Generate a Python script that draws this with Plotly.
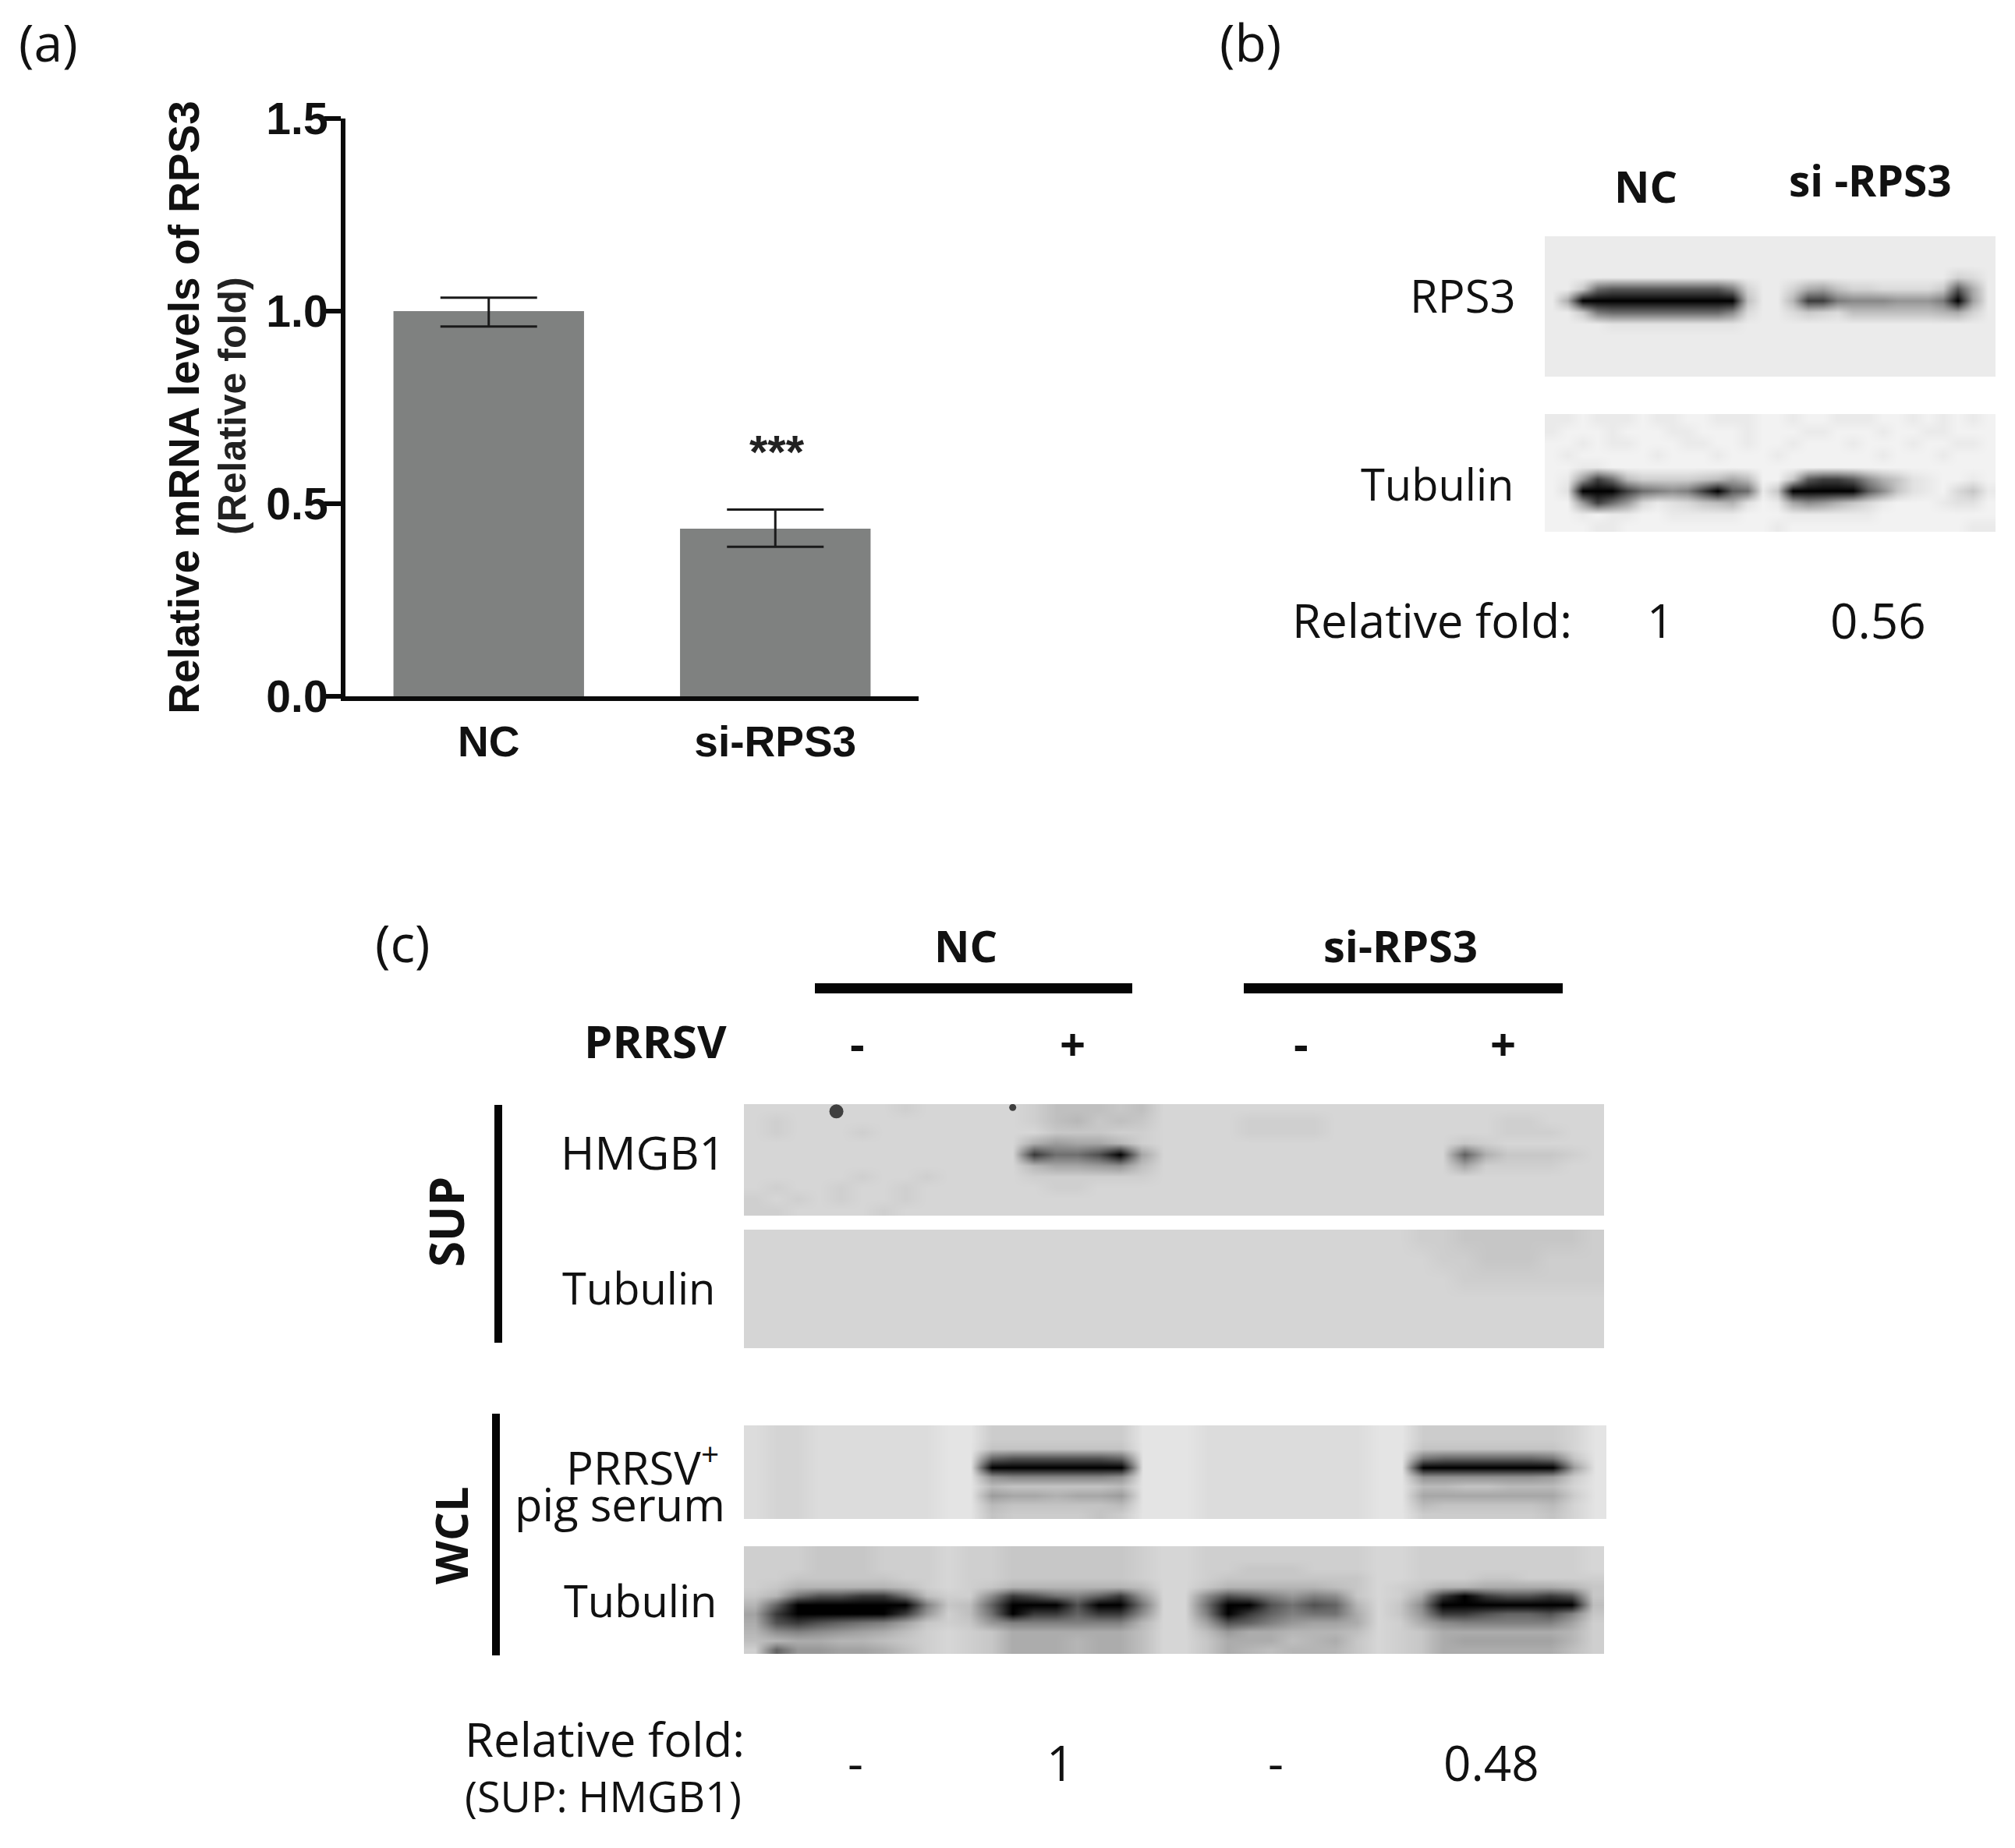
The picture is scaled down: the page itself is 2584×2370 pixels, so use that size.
import plotly.graph_objects as go

W, H = 2584, 2370
BODY = 8  # the page's own margin around the figure

# ---------- panel (a) data ----------
categories = ["NC", "si-RPS3"]
mrna_levels = [1.0, 0.435]
err_plus = [0.035, 0.05]
err_minus = [0.04, 0.047]
y_ticks = [0, 0.5, 1.0, 1.5]
y_tick_labels = ["0.0", "0.5", "1.0", "1.5"]

# ---------- blot densities: one hex digit per cell, f = membrane, 0 = black ----------
b_rps3 = [
    "ffffffffff ffffffffff ffffffffff",
    "ffffffffff ffffffffff ffffffffff",
    "ffffffffff ffffffffff ffffffffff",
    "ffffffffff ffffffffff fffffffcdf",
    "ffb3222222 224cffc87a ccddddb28f",
    "f800000000 000aff9114 55566640 7f",
    "ffb4333333 335dffdbcd aaaaaa98cf",
    "ffffeeeeee eeefffffff ffffffffff",
    "ffffffffff ffffffffff ffffffffff",
    "ffffffffff ffffffffff ffffffffff",
    "ffffffffff ffffffffff ffffffffff",
    "ffffffffff ffffffffff ffffffffff",
]
b_tubulin = [
    "eefeeefeef feeeffeffe eeffefefef",
    "efffefffee fffefffeef ffeffeefff",
    "ffefeefffe effeffefff efffeffeef",
    "fefffffeff fefffeffff ffefffefff",
    "ffeeffffff ffffffffff ffffffffff",
    "fe6139bbbb a979ffa211 258adeffef",
    "fd00013454 1023ea0000 025adefca e",
    "ff6136cedc a98dfe7568 acefffeddf",
    "ffefeeffee eeefffeeee eeffffffff",
    "fffeefffff fffffeffff ffffffffee",
]
c_hmgb1 = [
    "fffffffeff fffecccdcf ffffffffff ffffffffff",
    "feffffffff fffecbdcdf fffeeeefff fffffeefff",
    "fefffeffff ffffdddeef fffeeeefff fffffeeeff",
    "ffffffffff fffa899bef ffffffffff fffdefffff",
    "ffffffffff fff144209f ffffffffff fff3adddef",
    "ffffffffff fffb9987cf ffffffffff fff9eeeeff",
    "fffffeffef fffeeeeeef ffffffffff ffffffffff",
    "feffeffeff ffffeeffff ffffffffff ffffffffff",
    "efefeffeff ffffffffff ffffffffff ffffffffff",
    "eeffffefff ffffffffff ffffffffff ffffffffff",
]
c_sup_tubulin = [
    "ffffffffff ffffffffff ffffffffff feedddddde",
    "ffffffffff ffffffffff ffffffffff ffeedddeee",
    "ffffffffff ffffffffff ffffffffff fffeeeeeee",
    "ffffffffff ffffffffff ffffffffff ffffffffff",
    "ffffffffff ffffffffff ffffffffff ffffffffff",
    "ffffffffff ffffffffff ffffffffff ffffffffff",
]
c_serum = [
    "eddeeeeeef fcccccccff feeeeeeeef fcccccccdf",
    "eddeeeeeef fcccccccff feeeeeeeef fcccccccdf",
    "eddeeeeeef fbbbbbbbff feeeeeeeef fbbbbbbbdf",
    "eddeeeeeef f3222223ff feeeeeeeef f4333334bf",
    "eddeeeeeef f0000000ff feeeeeeeef f00000007f",
    "eddeeeeeef f6555556ff feeeeeeeef f6666667cf",
    "eddeeeeeef fabbbbbaff feeeeeeeef faabbaaadf",
    "eddeeeeeef f7889887ff feeeeeeeef f8888888cf",
    "eddeeeeeef fabbbbbaff feeeeeeeef fabbbbbadf",
    "eddeeeeeef fbccccbcff feeeeeeeef fccccccbdf",
]
c_wcl_tubulin = [
    "dddcccddde ddccccccde edddddddde edddddddde",
    "dddcccddde ddccccccde edddddddde edddddddde",
    "dddcccddde ddccccccde eddcccddde edddddddde",
    "ddcccccdde ddccccccde edccccccce edddccdddd",
    "dcaaaaabde dcaaaaaabe ecaaaaabce dcaa9999ac",
    "ca4221 14bd d612453 17e e623575 6ce d910122 12c",
    "a30000 005c b300020 04e e400242 3ae c600000 00b",
    "810000 017d b401131 16e e501354 49e c711233 25c",
    "921234 58cd c755555 5ae e823578 89e d965555 58d",
    "a65678 9bde dc99999 9be eb799aa abe dc99999 9ad",
    "ba99aa bcde dc999a9 9be ec999ba 9ce dc98888 8ad",
    "d37788 9bde dc999a9 9be ec9abaa ace dc99999 9bd",
]
hmgb1_speck_x = [3.8, 12.0]
hmgb1_speck_y = [0.15, -0.2]
hmgb1_speck_size = [18, 9]

# rows, membrane grey, left, right, top, bottom (page pixels)
blots = [
    (b_rps3, 235, 1981, 2559, 303, 483),
    (b_tubulin, 242, 1981, 2559, 531, 682),
    (c_hmgb1, 214, 954, 2057, 1416, 1559),
    (c_sup_tubulin, 213, 954, 2057, 1577, 1729),
    (c_serum, 228, 954, 2060, 1828, 1948),
    (c_wcl_tubulin, 222, 954, 2057, 1983, 2121),
]

HEX = "0123456789abcdef"


def decode(rows, paper):
    out = []
    width = max(len(r.replace(" ", "")) for r in rows)
    for r in rows:
        clean = r.replace(" ", "").ljust(width, "f")[:width]
        out.append([paper * (HEX.index(c) / 15) ** 0.5 for c in clean])
    return out


FW, FH = W - 2 * BODY, H - 2 * BODY


def px(x):
    return (x - BODY) / FW


def py(y):
    return 1 - (y - BODY) / FH


fig = go.Figure()

# panel (a): the bars
fig.add_trace(go.Bar(
    x=categories, y=mrna_levels, width=0.665,
    marker=dict(color="#7f8180", line=dict(width=0)),
    error_y=dict(type="data", symmetric=False, array=err_plus, arrayminus=err_minus,
                 color="#1a1a1a", thickness=3, width=62),
    showlegend=False, xaxis="x", yaxis="y",
))

layout_axes = {}
for i, (rows, paper, x0, x1, y0, y1) in enumerate(blots):
    n = i + 2
    z = decode(rows, paper)
    fig.add_trace(go.Heatmap(
        z=z, zmin=0, zmax=255, zsmooth="best", showscale=False,
        colorscale=[[0, "#000000"], [1, "#ffffff"]],
        xaxis=f"x{n}", yaxis=f"y{n}", hoverinfo="skip",
    ))
    layout_axes[f"xaxis{n}"] = dict(domain=[px(x0), px(x1)], anchor=f"y{n}", visible=False,
                                    range=[-0.5, len(z[0]) - 0.5], fixedrange=True, automargin=False)
    layout_axes[f"yaxis{n}"] = dict(domain=[py(y1), py(y0)], anchor=f"x{n}", visible=False,
                                    range=[len(z) - 0.5, -0.5], fixedrange=True, automargin=False)

fig.add_trace(go.Scatter(
    x=hmgb1_speck_x, y=hmgb1_speck_y, mode="markers", showlegend=False, hoverinfo="skip",
    marker=dict(color="#000000", size=hmgb1_speck_size, line=dict(width=0)),
    xaxis="x4", yaxis="y4",
))

SANS = "Open Sans"
ARIAL = "Liberation Sans"
INK = "#111111"


def note(text, x, y, size, bold=False, anchor="center", angle=0, family=SANS, color=INK):
    label = f"<b>{text}</b>" if bold else text
    fig.add_annotation(
        text=label, x=px(x), y=py(y), xref="paper", yref="paper", showarrow=False,
        xanchor=anchor, yanchor="middle", textangle=angle,
        font=dict(family=family, size=size, color=color),
    )


# panel letters
note("(a)", 62, 53, 66)
note("(b)", 1603, 53, 66)
note("(c)", 516, 1208, 66)

# panel (a) extras
note("***", 997, 579, 60, bold=True, family=ARIAL, color="#222222")
note("(Relative fold)", 298, 521, 50, bold=True, angle=-90, family=ARIAL, color="#222222")

# panel (b) text
note("NC", 2110, 238, 56, bold=True)
note("si -RPS3", 2398, 231, 55, bold=True)
note("RPS3", 1946, 378, 58, anchor="right")
note("Tubulin", 1943, 620, 56, anchor="right")
note("Relative fold:", 1655, 795, 60, anchor="left")
note("1", 2129, 795, 60)
note("0.56", 2408, 795, 62)

# panel (c) text
note("NC", 1238, 1212, 56, bold=True)
note("si-RPS3", 1796, 1212, 56, bold=True)
note("PRRSV", 934, 1335, 58, bold=True, anchor="right")
for label, x in zip(["-", "+", "-", "+"], [1099, 1376, 1668, 1927]):
    note(label, x, 1337, 58, bold=True)
note("SUP", 572, 1567, 60, bold=True, angle=-90)
note("WCL", 577, 1969, 58, bold=True, angle=-90)
note("HMGB1", 932, 1477, 59, anchor="right")
note("Tubulin", 919, 1651, 56, anchor="right")
note("PRRSV<sup>+</sup>", 924, 1879, 58, anchor="right")
note("pig serum", 932, 1928, 58, anchor="right")
note("Tubulin", 921, 2052, 56, anchor="right")
note("Relative fold:", 594, 2230, 60, anchor="left")
note("(SUP: HMGB1)", 594, 2303, 54, anchor="left")
for label, x in zip(["-", "1", "-", "0.48"], [1097, 1359, 1636, 1912]):
    note(label, x, 2260, 62)

# rules of panel (c)
shapes = []
for x0, x1, y0, y1 in [
    (1045, 1452, 1261, 1274), (1595, 2004, 1261, 1274),
    (634, 644, 1417, 1722), (631, 641, 1813, 2123),
]:
    shapes.append(dict(type="rect", xref="paper", yref="paper", x0=px(x0), x1=px(x1),
                       y0=py(y0), y1=py(y1), fillcolor="#050505", line=dict(width=0)))

fig.update_layout(
    template="none",
    width=FW, height=FH, autosize=False, margin=dict(l=0, r=0, t=0, b=0, pad=0),
    paper_bgcolor="white", plot_bgcolor="rgba(0,0,0,0)", showlegend=False, shapes=shapes,
    bargap=0.335,
    xaxis=dict(domain=[px(443), px(1178)], anchor="y", type="category", range=[-0.5, 1.5],
               showline=True, linecolor="#0a0a0a", linewidth=6, ticks="", showgrid=False,
               zeroline=False, ticklabelstandoff=5, automargin=False,
               tickvals=categories, ticktext=[f"<b>{c}</b>" for c in categories],
               tickfont=dict(family=ARIAL, size=55, color=INK)),
    yaxis=dict(domain=[py(893), py(152)], anchor="x", range=[0, 1.5], tickvals=y_ticks,
               ticktext=[f"<b>{t}</b>" for t in y_tick_labels],
               showline=True, linecolor="#0a0a0a", linewidth=6, ticks="outside", ticklen=21,
               tickwidth=6, tickcolor="#0a0a0a", showgrid=False, zeroline=False, automargin=False,
               ticklabelstandoff=-16,
               tickfont=dict(family=ARIAL, size=57, color=INK),
               title=dict(text="<b>Relative mRNA levels of RPS3</b>", standoff=70,
                          font=dict(family=ARIAL, size=55, color=INK))),
    **layout_axes,
)

fig.write_html("out.html")
